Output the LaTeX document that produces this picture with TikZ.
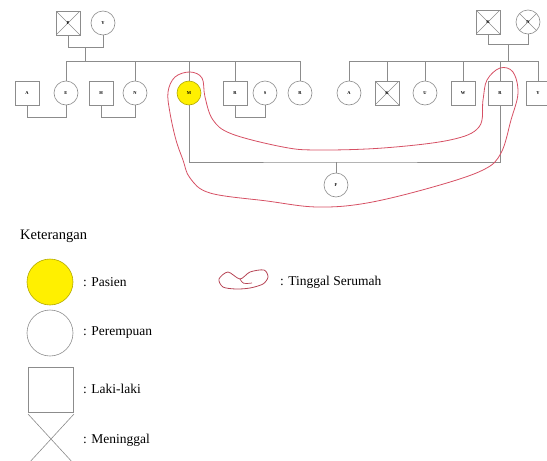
\documentclass[tikz,border=0pt]{standalone}
\usepackage{fontspec}
\setmainfont{Liberation Serif}
\definecolor{lc}{RGB}{140,140,140}
\definecolor{loopred}{RGB}{214,80,100}
\definecolor{patfill}{RGB}{255,240,0}
\begin{document}
\begin{tikzpicture}[x=1pt,y=-1pt,
  line/.style={draw=lc, line width=0.6pt},
  sq/.style={draw=lc, line width=0.6pt, minimum size=24pt, inner sep=0pt, font=\fontsize{4.5}{4.5}\selectfont\bfseries},
  ci/.style={circle, draw=lc, line width=0.6pt, minimum size=24pt, inner sep=0pt, font=\fontsize{4.5}{4.5}\selectfont\bfseries},
  dead/.style={path picture={\draw[lc, line width=0.6pt] (path picture bounding box.north west) -- (path picture bounding box.south east) (path picture bounding box.north east) -- (path picture bounding box.south west);}},
  pat/.style={ci, fill=patfill, draw=black!30!patfill},
  liveloop/.style={draw=loopred, line width=0.8pt},
  leg/.style={anchor=west, inner sep=0pt, font=\fontsize{13.5}{14}\selectfont}]
\useasboundingbox (0,0) rectangle (547,461);

% ---- left grandparents
\node[sq,dead] (gf1) at (68,23) {P};
\node[ci] (gm1) at (103,23) {Y};
\coordinate (c1) at (85.5,47);
\coordinate (s1) at (85.5,61);
\draw[line] (gf1.south) -- ++(0,12) -| (gm1.south);
\draw[line] (c1) -- (s1);

% ---- left children row
\node[sq] (A) at (27,93) {A};
\node[ci] (E) at (66,93) {E};
\node[sq] (H) at (101,93) {H};
\node[ci] (N) at (135,93) {N};
\node[pat] (M) at (189,93) {M};
\node[sq] (R) at (235,93) {R};
\node[ci] (S) at (265,93) {S};
\node[ci] (X) at (300,93) {R};

\draw[line] (E.north) -- (E.north |- s1) -- (X.north |- s1) -- (X.north);
\foreach \n in {N,M,R} \draw[line] (\n.north) -- (\n.north |- s1);
\draw[line] (A.south) -- ++(0,12) -| (E.south);
\draw[line] (H.south) -- ++(0,12) -| (N.south);
\draw[line] (R.south) -- ++(0,12) -| (S.south);

% ---- right grandparents
\node[sq,dead] (gf2) at (488,22) {K};
\node[ci,dead] (gm2) at (528,22) {N};
\coordinate (c2) at (508,44);
\coordinate (s2) at (508,61);
\draw[line] (gf2.south) -- ++(0,10) -| (gm2.south);
\draw[line] (c2) -- (s2);

% ---- right children row
\node[ci] (B1) at (349,93) {A};
\node[sq,dead] (B2) at (387,93) {K};
\node[ci] (B3) at (425,93) {U};
\node[sq] (B4) at (463,93) {W};
\node[sq] (B5) at (500,93) {R};
\node[sq] (B6) at (538,93) {Y};
\draw[line] (B1.north) -- (B1.north |- s2) -- (B6.north |- s2) -- (B6.north);
\foreach \n in {B2,B3,B4,B5} \draw[line] (\n.north) -- (\n.north |- s2);

% ---- marriage and child
\coordinate (j) at (336,162);
\node[ci] (F) at (336,185) {F};
\draw[line] (M.south) |- (j) -| (B5.south);
\draw[line] (j) -- (F.north);

% ---- living together loop
\draw[liveloop] plot[smooth cycle, tension=0.6] coordinates {
 (168,92) (175,77) (190,72) (202,78) (205,97) (213,120) (232,134) (283,147)
 (317,150) (383,148) (450,140) (479,127) (483,100) (487,80) (500,68) (513,72)
 (518,93) (511,120) (501,153) (483,170) (433,187) (367,203) (317,207) (267,201)
 (210,193) (190,178) (183,160) (176,140) (170,113)};

% ---- legend
\node[leg, font=\fontsize{14.5}{15}\selectfont] (ket) at (20,236) {Keterangan};
\node[pat, minimum size=46pt] (lp) at (50,282) {};
\node[leg] (tp) at (83,282) {: Pasien};
\node[ci, minimum size=46pt] (lc1) at (50,333) {};
\node[leg] (tc) at (83,333) {: Perempuan};
\node[sq, minimum size=45pt] (ls) at (50.5,390) {};
\node[leg] (ts) at (83,389) {: Laki-laki};
\draw[line] (28,414) -- (74,464);
\draw[line] (74,414) -- (28,464);
\node[leg] (tx) at (83,440) {: Meninggal};

\draw[draw=loopred!85!black, line width=0.8pt] plot[smooth cycle, tension=0.5] coordinates {
 (219,279) (228,272) (240,279) (250,272) (264,270) (268,277) (263,284)
 (250,288) (236,289) (223,287)};
\draw[draw=loopred!85!black, line width=0.7pt] (240,279) .. controls (243,284) .. (252,283);
\node[leg] (tl) at (280,282) {: Tinggal Serumah};
\end{tikzpicture}
\end{document}
